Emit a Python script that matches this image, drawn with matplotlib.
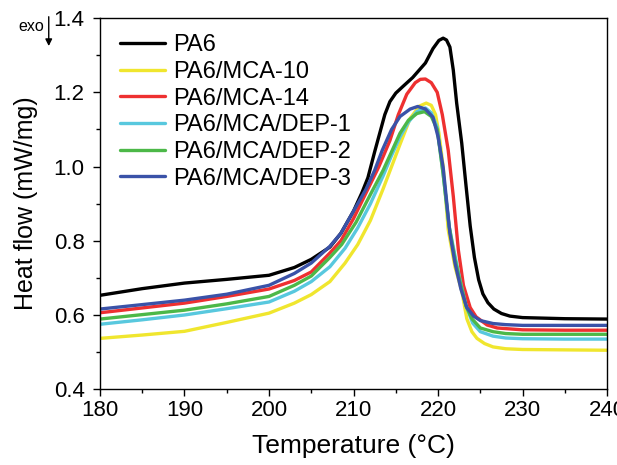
import matplotlib
matplotlib.use("Agg")
import matplotlib.pyplot as plt
from matplotlib.patches import FancyArrowPatch
from matplotlib.ticker import MultipleLocator

plt.rcParams['font.family'] = ['Liberation Sans', 'DejaVu Sans']

# DSC cooling curves (temperature in °C, heat flow in mW/mg)
t_pa6 = [180, 185, 190, 195, 200, 203, 205, 207.2, 208.5, 210, 211, 211.7, 212.5, 213.1, 213.7,
         214.3, 215, 215.8, 217, 218.5, 219.4, 220.1, 220.6, 221, 221.4, 221.8, 222.2, 222.8, 223.3,
         223.8, 224.3, 224.8, 225.3, 225.9, 226.6, 227.5, 228.5, 230, 235, 240]
v_pa6 = [0.653, 0.671, 0.686, 0.696, 0.707, 0.728, 0.75, 0.783, 0.82, 0.88, 0.93, 0.97, 1.04,
         1.09, 1.14, 1.175, 1.198, 1.215, 1.24, 1.279, 1.318, 1.34, 1.346, 1.341, 1.322, 1.26, 1.171,
         1.063, 0.95, 0.84, 0.755, 0.695, 0.657, 0.633, 0.616, 0.604, 0.597, 0.593, 0.59, 0.589]

t_mca10 = [180, 185, 190, 195, 200, 203, 205, 207.2, 209, 210.5, 212, 213.5, 214.5, 215.5, 216.7,
           217.8, 218.6, 219.2, 219.7, 220.1, 220.6, 221.2, 222, 222.8, 223.4, 224, 224.6, 225.5,
           226.5, 228, 230, 235, 240]
v_mca10 = [0.537, 0.546, 0.556, 0.58, 0.605, 0.632, 0.655, 0.69, 0.74, 0.79, 0.855, 0.94, 1.0,
           1.06, 1.13, 1.163, 1.171, 1.165, 1.14, 1.09, 1.0, 0.83, 0.73, 0.665, 0.59, 0.555,
           0.537, 0.523, 0.514, 0.509, 0.507, 0.506, 0.505]

t_mca14 = [180, 185, 190, 195, 200, 203, 205, 207.2, 208.5, 210, 211.5, 213, 214.3, 215.3, 216.3,
           217.3, 217.9, 218.5, 219.2, 219.9, 220.5, 221.2, 221.8, 222.4, 223, 223.8, 224.5, 225.8,
           227, 230, 235, 240]
v_mca14 = [0.606, 0.619, 0.632, 0.65, 0.67, 0.693, 0.716, 0.767, 0.80, 0.86, 0.93, 1.0, 1.07, 1.14,
           1.195, 1.226, 1.235, 1.236, 1.226, 1.2, 1.14, 1.044, 0.92, 0.775, 0.68, 0.62, 0.595,
           0.573, 0.565, 0.56, 0.559, 0.559]

t_dep1 = [180, 185, 190, 195, 200, 203, 205, 207.2, 209, 210.5, 212, 213.5, 214.5, 215.5, 216.5,
          217.5, 218.5, 219.2, 219.9, 220.6, 221.3, 222, 222.6, 223.3, 224.1, 225, 226.5, 228, 230,
          235, 240]
v_dep1 = [0.575, 0.587, 0.6, 0.617, 0.635, 0.664, 0.69, 0.73, 0.78, 0.835, 0.9, 0.975, 1.03, 1.08,
          1.12, 1.148, 1.158, 1.145, 1.106, 0.98, 0.84, 0.76, 0.694, 0.625, 0.578, 0.555, 0.543,
          0.538, 0.536, 0.535, 0.535]

t_dep2 = [180, 185, 190, 195, 200, 203, 205, 207.2, 208.6, 210.3, 212, 213.5, 214.5, 215.5, 216.5,
          217.5, 218.4, 219.2, 219.9, 220.6, 221.3, 222, 222.6, 223.3, 224, 225, 226.5, 228, 230,
          235, 240]
v_dep2 = [0.589, 0.601, 0.613, 0.63, 0.65, 0.68, 0.705, 0.755, 0.79, 0.85, 0.925, 0.99, 1.04, 1.09,
          1.125, 1.143, 1.148, 1.135, 1.1, 0.98, 0.84, 0.75, 0.69, 0.625, 0.59, 0.565, 0.555,
          0.55, 0.548, 0.548, 0.548]

t_dep3 = [180, 185, 190, 195, 200, 203, 205, 207.2, 208.5, 210, 211.5, 212.5, 213.4, 214.5, 215.5,
          216.7, 217.6, 218.5, 219.4, 220, 220.6, 221.4, 222, 222.7, 223.4, 224.2, 225, 226.5, 228,
          230, 235, 240]
v_dep3 = [0.616, 0.628, 0.64, 0.656, 0.68, 0.712, 0.74, 0.785, 0.82, 0.88, 0.94, 0.99, 1.044, 1.1,
          1.135, 1.155, 1.162, 1.155, 1.133, 1.08, 0.998, 0.82, 0.74, 0.67, 0.62, 0.597, 0.585,
          0.577, 0.574, 0.572, 0.572, 0.572]

series = [
    ("PA6", t_pa6, v_pa6, "#000000"),
    ("PA6/MCA-10", t_mca10, v_mca10, "#f0e62e"),
    ("PA6/MCA-14", t_mca14, v_mca14, "#ee3030"),
    ("PA6/MCA/DEP-1", t_dep1, v_dep1, "#58c8de"),
    ("PA6/MCA/DEP-2", t_dep2, v_dep2, "#4cb848"),
    ("PA6/MCA/DEP-3", t_dep3, v_dep3, "#3a52a8"),
]

fig = plt.figure(figsize=(6.17, 4.65), dpi=100)
ax = fig.add_axes([0.162, 0.163, 0.822, 0.798])

for name, t, v, c in series:
    ax.plot(t, v, color=c, lw=2.4, label=name, solid_joinstyle='round', solid_capstyle='round')

ax.set_xlim(180, 240)
ax.set_ylim(0.4, 1.4)
ax.xaxis.set_major_locator(MultipleLocator(10))
ax.xaxis.set_minor_locator(MultipleLocator(5))
ax.yaxis.set_major_locator(MultipleLocator(0.2))
ax.yaxis.set_minor_locator(MultipleLocator(0.1))
ax.tick_params(which='major', direction='out', length=5, width=1, labelsize=16)
ax.tick_params(which='minor', direction='out', length=3, width=1)
ax.tick_params(axis='x', pad=3)
ax.tick_params(axis='y', pad=6)
for s in ax.spines.values():
    s.set_linewidth(1)

ax.set_xlabel("Temperature (°C)", fontsize=19, labelpad=9)
ax.set_ylabel("Heat flow (mW/mg)", fontsize=18, labelpad=11)

ax.legend(loc='upper left', frameon=False, fontsize=17, handlelength=1.9, handletextpad=0.35,
          labelspacing=0.2, borderpad=0, borderaxespad=0, bbox_to_anchor=(0.039, 0.957))

fig.text(0.03, 0.942, "exo", fontsize=11.5, ha='left', va='center')
fig.add_artist(FancyArrowPatch((0.079, 0.97), (0.079, 0.895), transform=fig.transFigure,
                               arrowstyle='-|>', mutation_scale=10, color='black', lw=1))

fig.savefig("out.png", dpi=100)
